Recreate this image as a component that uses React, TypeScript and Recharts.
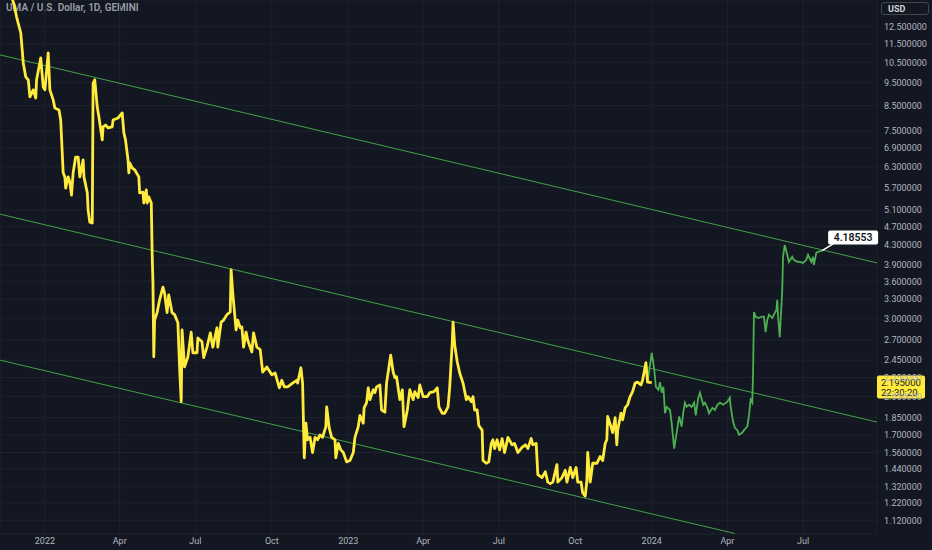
import React from "react";
import {
  ComposedChart,
  Line,
  XAxis,
  YAxis,
  CartesianGrid,
  ReferenceLine,
  ReferenceDot,
} from "recharts";

// x values are days counted from 2022-01-01
const monthTicks = [0, 90, 181, 273, 365, 455, 546, 638, 730, 821, 912];
const monthLabels = ["2022", "Apr", "Jul", "Oct", "2023", "Apr", "Jul", "Oct", "2024", "Apr", "Jul"];

const priceTicks = [
  1.12, 1.22, 1.32, 1.44, 1.56, 1.7, 1.85, 2.05, 2.25, 2.45, 2.7, 3.0, 3.3, 3.6,
  3.9, 4.3, 4.7, 5.1, 5.7, 6.3, 6.9, 7.5, 8.5, 9.5, 10.5, 11.5, 12.5,
];

const close2021: [number, number][] = [
  [-41, 14.67], [-37, 13.9], [-34, 13.1], [-29, 12.12], [-26, 10.47], [-23, 9.78],
  [-20, 9.64], [-18, 8.87], [-14, 9.18], [-11, 8.82], [-10, 9.64], [-5, 10.73], [-2, 9.31],
];

const close2022: [number, number][] = [
  [0, 9.18], [4, 11.0], [6, 9.18], [10, 8.74], [12, 8.4], [17, 8.32], [19, 7.92],
  [22, 6.12], [24, 6.0], [25, 5.68], [28, 6.0], [30, 5.85], [32, 5.49], [34, 6.12],
  [37, 6.61], [40, 6.61], [42, 6.0], [46, 6.52], [47, 6.0], [51, 5.55], [52, 5.1],
  [54, 4.81], [57, 4.79], [58, 9.49], [60, 9.64], [63, 8.44], [65, 8.04], [69, 7.19],
  [70, 7.66], [73, 7.73], [76, 7.62], [81, 7.66], [82, 7.92], [88, 8.0], [93, 8.2],
  [95, 7.44], [97, 7.19], [100, 6.52], [101, 6.12], [102, 6.42], [105, 6.27], [108, 6.21],
  [113, 6.0], [114, 5.55], [118, 5.57], [119, 5.28], [122, 5.63], [123, 5.28], [125, 5.44],
  [128, 5.28], [129, 4.14], [130, 3.57], [131, 2.49], [132, 2.98], [135, 3.09], [138, 3.29],
  [142, 3.5], [144, 3.4], [147, 3.09], [149, 3.37], [153, 3.09], [156, 3.06], [160, 2.94],
  [162, 2.37], [164, 2.0], [165, 2.84], [168, 2.37], [172, 2.49], [176, 2.81], [178, 2.54],
  [183, 2.54], [184, 2.73], [189, 2.68], [191, 2.48], [195, 2.61], [199, 2.8], [202, 2.61],
  [207, 2.87], [208, 2.61], [212, 2.95], [215, 2.98], [219, 3.06], [223, 3.1], [224, 3.81],
  [226, 3.4], [230, 2.84], [232, 2.98], [235, 2.87], [237, 2.88], [239, 2.61], [242, 2.81],
  [244, 2.7], [249, 2.55], [251, 2.8], [255, 2.61], [259, 2.58], [262, 2.31], [267, 2.37],
  [273, 2.28], [277, 2.3], [282, 2.14], [285, 2.22], [288, 2.15], [292, 2.15], [298, 2.19],
  [303, 2.22], [304, 2.19], [308, 2.36], [310, 2.19], [312, 1.52], [314, 1.8], [316, 1.66],
  [319, 1.68], [322, 1.56], [325, 1.68], [328, 1.66], [331, 1.7], [334, 1.68], [338, 1.77],
  [339, 1.95], [342, 1.76], [345, 1.68], [349, 1.66], [350, 1.52], [353, 1.63], [356, 1.58],
  [359, 1.56], [363, 1.49],
];

const close2023: [number, number][] = [
  [367, 1.5], [371, 1.56], [373, 1.68], [377, 1.77], [379, 1.87], [383, 1.8], [384, 1.94],
  [387, 1.99], [389, 2.14], [391, 2.02], [395, 2.12], [397, 2.09], [399, 2.15], [403, 2.17],
  [405, 1.92], [409, 1.9], [411, 2.19], [416, 2.51], [419, 2.31], [421, 2.25], [423, 2.26],
  [427, 2.02], [430, 2.12], [432, 1.77], [436, 1.92], [439, 2.12], [443, 2.02], [445, 2.1],
  [449, 2.04], [451, 2.17], [455, 2.05], [460, 2.05], [463, 2.09], [468, 2.1], [472, 2.14],
  [474, 1.95], [478, 1.89], [481, 1.89], [485, 1.95], [487, 2.15], [490, 2.66], [491, 2.95],
  [493, 2.64], [496, 2.43], [499, 2.3], [503, 2.19], [507, 2.02], [509, 2.05], [513, 2.0],
  [515, 2.05], [517, 1.92], [520, 1.92], [522, 1.78], [526, 1.74], [527, 1.5], [531, 1.48],
  [534, 1.49], [537, 1.63], [539, 1.66], [541, 1.59], [544, 1.66], [547, 1.58], [550, 1.67],
  [553, 1.56], [557, 1.68], [562, 1.62], [565, 1.63], [569, 1.56], [574, 1.6], [578, 1.62],
  [581, 1.59], [585, 1.67], [587, 1.62], [591, 1.63], [593, 1.4], [598, 1.38], [602, 1.42],
  [605, 1.35], [608, 1.34], [611, 1.35], [616, 1.47], [617, 1.35], [622, 1.38], [626, 1.43],
  [628, 1.35], [632, 1.45], [635, 1.38], [639, 1.45], [641, 1.35], [645, 1.35], [647, 1.28],
  [650, 1.26], [652, 1.36], [653, 1.56], [656, 1.35], [659, 1.48], [664, 1.48], [668, 1.53],
  [671, 1.5], [674, 1.63], [676, 1.66], [677, 1.86], [681, 1.77], [683, 1.72], [686, 1.85],
  [688, 1.62], [689, 1.74], [693, 1.89], [695, 1.83], [698, 1.94], [701, 1.97], [704, 2.05],
  [707, 2.1], [710, 2.19], [713, 2.2], [717, 2.17], [719, 2.22], [723, 2.42], [725, 2.2],
  [730, 2.195],
];

const projection2024: [number, number][] = [
  [725, 2.2], [730, 2.54], [733, 2.34], [735, 2.15], [738, 2.12], [740, 2.2], [742, 2.09],
  [744, 2.15], [746, 1.89], [748, 1.95], [752, 1.92], [754, 1.8], [757, 1.59], [760, 1.72],
  [763, 1.86], [766, 1.77], [768, 1.9], [770, 1.99], [772, 1.95], [775, 1.97], [778, 1.95],
  [781, 1.99], [783, 1.87], [786, 2.04], [788, 2.09], [792, 1.97], [794, 1.99], [797, 1.94],
  [799, 1.89], [803, 1.94], [806, 1.92], [809, 1.97], [812, 1.99], [816, 1.97], [821, 2.0],
  [824, 2.04], [825, 1.95], [828, 1.81], [830, 1.76], [833, 1.74], [835, 1.7], [839, 1.72],
  [841, 1.74], [845, 1.77], [847, 1.87], [849, 2.02], [851, 1.99], [852, 2.34], [853, 3.1],
  [855, 3.03], [858, 3.01], [863, 3.03], [865, 3.03], [867, 2.81], [869, 2.98], [871, 3.06],
  [875, 3.01], [877, 3.06], [880, 3.13], [881, 3.29], [882, 3.03], [884, 2.74], [887, 3.45],
  [888, 4.06], [890, 4.3], [893, 4.1], [895, 3.96], [899, 4.06], [901, 4.0], [905, 3.96],
  [908, 3.96], [912, 3.94], [916, 4.0], [918, 4.1], [922, 3.96], [924, 4.06], [925, 3.9],
  [928, 4.14], [930, 4.16], [935, 4.18553],
];

// parallel channel drawn on the chart: [day, price] end points
const channelUpper: [number, number][] = [[-54, 10.89], [1001, 3.94]];
const channelMiddle: [number, number][] = [[-54, 5.0], [1001, 1.81]];
const channelLower: [number, number][] = [[-54, 2.45], [830, 1.05]];

const lastClose = 2.195;
const barCountdown = "22:30:20";
const targetPrice = 4.18553;
const targetDay = 935;

const toPoints = (rows: [number, number][]) => rows.map(([d, p]) => ({ d, p }));
const history = toPoints([...close2021, ...close2022, ...close2023]);
const projection = toPoints(projection2024);

const BG = "#131722";
const TEXT = "#b2b5be";
const FONT = "Roboto, 'Liberation Sans', sans-serif";

const segment = (rows: [number, number][]) =>
  rows.map(([x, y]) => ({ x, y }));

const LastPriceTag = (props: any) => {
  const { cx, cy } = props;
  return (
    <g>
      <rect x={cx} y={cy - 7} width={48} height={23} rx={2} fill="#ffeb3b" />
      <text x={cx + 4} y={cy} dy="0.35em" fontSize={9.5} fill="#131722" fontFamily={FONT}>
        {lastClose.toFixed(6)}
      </text>
      <text x={cx + 4} y={cy + 10} dy="0.35em" fontSize={9.5} fill="#131722" fontFamily={FONT}>
        {barCountdown}
      </text>
    </g>
  );
};

const TargetTag = (props: any) => {
  const { cx, cy } = props;
  return (
    <g>
      <line x1={cx} y1={cy} x2={cx + 13} y2={cy - 8} stroke="#ffffff" strokeWidth={1.5} />
      <rect x={cx + 6} y={cy - 20} width={50} height={14} rx={2} fill="#ffffff" />
      <text
        x={cx + 31}
        y={cy - 13}
        dy="0.35em"
        textAnchor="middle"
        fontSize={10.5}
        fontWeight={600}
        fill="#131722"
        fontFamily={FONT}
      >
        {targetPrice}
      </text>
    </g>
  );
};

export default function App() {
  return (
    <div
      style={{
        position: "fixed",
        left: 0,
        top: 0,
        width: 932,
        height: 550,
        background: BG,
        overflow: "hidden",
        fontFamily: FONT,
      }}
    >
      <div
        style={{
          position: "absolute",
          left: 6,
          top: 2,
          color: TEXT,
          fontSize: 10,
          fontWeight: 600,
          opacity: 0.85,
        }}
      >
        UMA / U.S. Dollar, 1D, GEMINI
      </div>
      <div
        style={{
          position: "absolute",
          left: 881,
          top: 2,
          width: 48,
          height: 13,
          border: "1px solid #434651",
          borderRadius: 3,
          color: "#d1d4dc",
          fontSize: 9,
          fontWeight: 700,
          lineHeight: "13px",
          paddingLeft: 6,
          boxSizing: "border-box",
        }}
      >
        USD
      </div>
      <div style={{ position: "absolute", left: 0, top: 0 }}>
        <ComposedChart width={932} height={550} margin={{ top: 0, right: 0, bottom: 0, left: 0 }}>
          <CartesianGrid stroke="#1e222d" strokeWidth={1} />
          <XAxis
            type="number"
            dataKey="d"
            domain={[-54, 1001]}
            allowDataOverflow
            ticks={monthTicks}
            tickFormatter={(v: number) => monthLabels[monthTicks.indexOf(v)]}
            height={16}
            axisLine={false}
            tickLine={false}
            tickSize={4}
            tickMargin={0}
            tick={{ fill: TEXT, fontSize: 9, fontFamily: FONT }}
          />
          <YAxis
            orientation="right"
            scale="log"
            domain={[1.0475, 14.24]}
            allowDataOverflow
            ticks={priceTicks}
            tickFormatter={(v: number) => v.toFixed(6)}
            width={55}
            axisLine={false}
            tickLine={false}
            tickSize={7}
            tickMargin={0}
            interval={0}
            tick={{ fill: TEXT, fontSize: 9, fontFamily: FONT }}
          />
          <ReferenceLine segment={segment(channelUpper)} stroke="#43a047" strokeWidth={1} ifOverflow="hidden" />
          <ReferenceLine segment={segment(channelMiddle)} stroke="#43a047" strokeWidth={1} ifOverflow="hidden" />
          <ReferenceLine segment={segment(channelLower)} stroke="#43a047" strokeWidth={1} ifOverflow="hidden" />
          <Line
            data={projection}
            dataKey="p"
            type="linear"
            stroke="#4caf50"
            strokeWidth={1.8}
            dot={false}
            isAnimationActive={false}
          />
          <Line
            data={history}
            dataKey="p"
            type="linear"
            stroke="#ffeb3b"
            strokeWidth={2.8}
            strokeLinejoin="round"
            dot={false}
            isAnimationActive={false}
          />
          <ReferenceDot x={targetDay} y={targetPrice} ifOverflow="visible" shape={TargetTag} />
          <ReferenceDot x={1001} y={lastClose} ifOverflow="visible" shape={LastPriceTag} />
        </ComposedChart>
      </div>
    </div>
  );
}
